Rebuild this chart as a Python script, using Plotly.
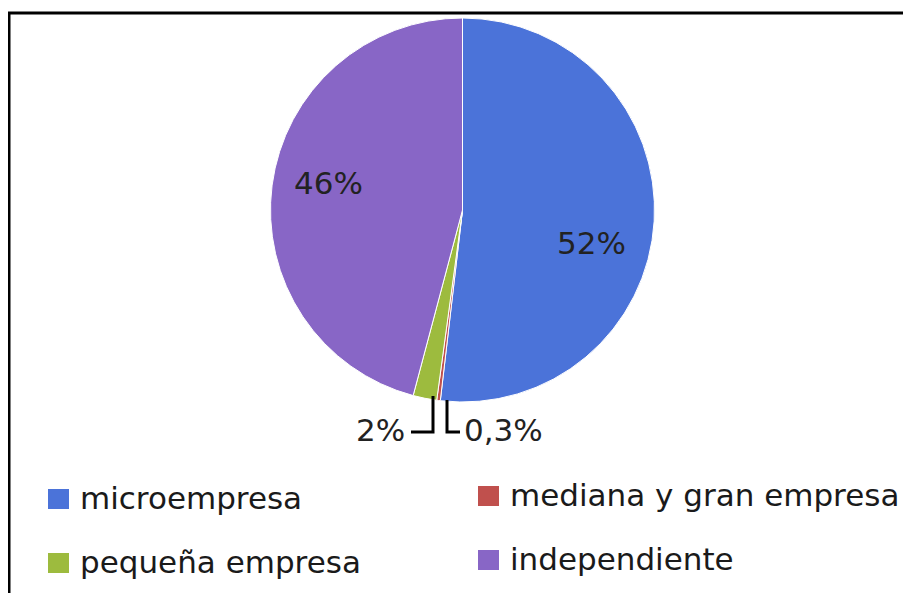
import plotly.graph_objects as go

# Data
categories = ["microempresa", "mediana y gran empresa", "pequeña empresa", "independiente"]
values = [52, 0.3, 2, 46]
slice_labels = ["52%", "0,3%", "2%", "46%"]
colors = ["#4b73d9", "#c0504d", "#9dbb3e", "#8866c6"]

W, H = 911, 593
OFF = 8  # page body margin


def px(x):
    return (x - OFF) / W


def py(y):
    return 1 - (y - OFF) / H


fig = go.Figure(go.Pie(
    labels=categories,
    values=values,
    sort=False,
    direction="clockwise",
    rotation=0,
    marker=dict(colors=colors, line=dict(color="white", width=1)),
    textinfo="none",
    hoverinfo="label+percent",
    domain=dict(x=[px(270), px(655)], y=[py(402), py(18)]),
    showlegend=False,
))

font = dict(family="DejaVu Sans", size=31, color="#222222")

# slice labels
label_pos = {
    "52%": dict(x=px(591), y=py(243), xanchor="center"),
    "46%": dict(x=px(328), y=py(183), xanchor="center"),
    "2%": dict(x=px(407), y=py(430), xanchor="right"),
    "0,3%": dict(x=px(462), y=py(430), xanchor="left"),
}
for txt in slice_labels:
    p = label_pos[txt]
    fig.add_annotation(text=txt, x=p["x"], y=p["y"], xref="paper", yref="paper",
                       xanchor=p["xanchor"], yanchor="middle", showarrow=False, font=font)

# bracket lines for the small slices
def path(pts):
    return "M " + " L ".join(f"{px(a)},{py(b)}" for a, b in pts)

fig.add_shape(type="path", xref="paper", yref="paper",
              path=path([(433, 396), (433, 432), (411, 432)]),
              line=dict(color="black", width=3))
fig.add_shape(type="path", xref="paper", yref="paper",
              path=path([(447, 400), (447, 432), (460, 432)]),
              line=dict(color="black", width=3))

# legend, two columns
legend_slots = [(48, 499), (478, 496), (48, 563), (478, 560)]
for name, col, (lx, ly) in zip(categories, colors, legend_slots):
    fig.add_shape(type="rect", xref="paper", yref="paper",
                  x0=px(lx), x1=px(lx + 21), y0=py(ly - 10), y1=py(ly + 10),
                  fillcolor=col, line=dict(width=0))
    fig.add_annotation(text=name, x=px(lx + 30), y=py(ly - 1), xref="paper", yref="paper",
                       xanchor="left", yanchor="middle", showarrow=False,
                       font=dict(family="DejaVu Sans", size=31, color="#1a1a1a"))

# outer frame (right and bottom edges fall outside the image)
fig.add_shape(type="rect", xref="paper", yref="paper",
              x0=px(9), x1=px(960), y0=py(640), y1=py(13),
              line=dict(color="black", width=3))

fig.update_layout(
    width=W, height=H,
    margin=dict(l=0, r=0, t=0, b=0),
    paper_bgcolor="white",
    plot_bgcolor="white",
)

fig.write_html("out.html")
